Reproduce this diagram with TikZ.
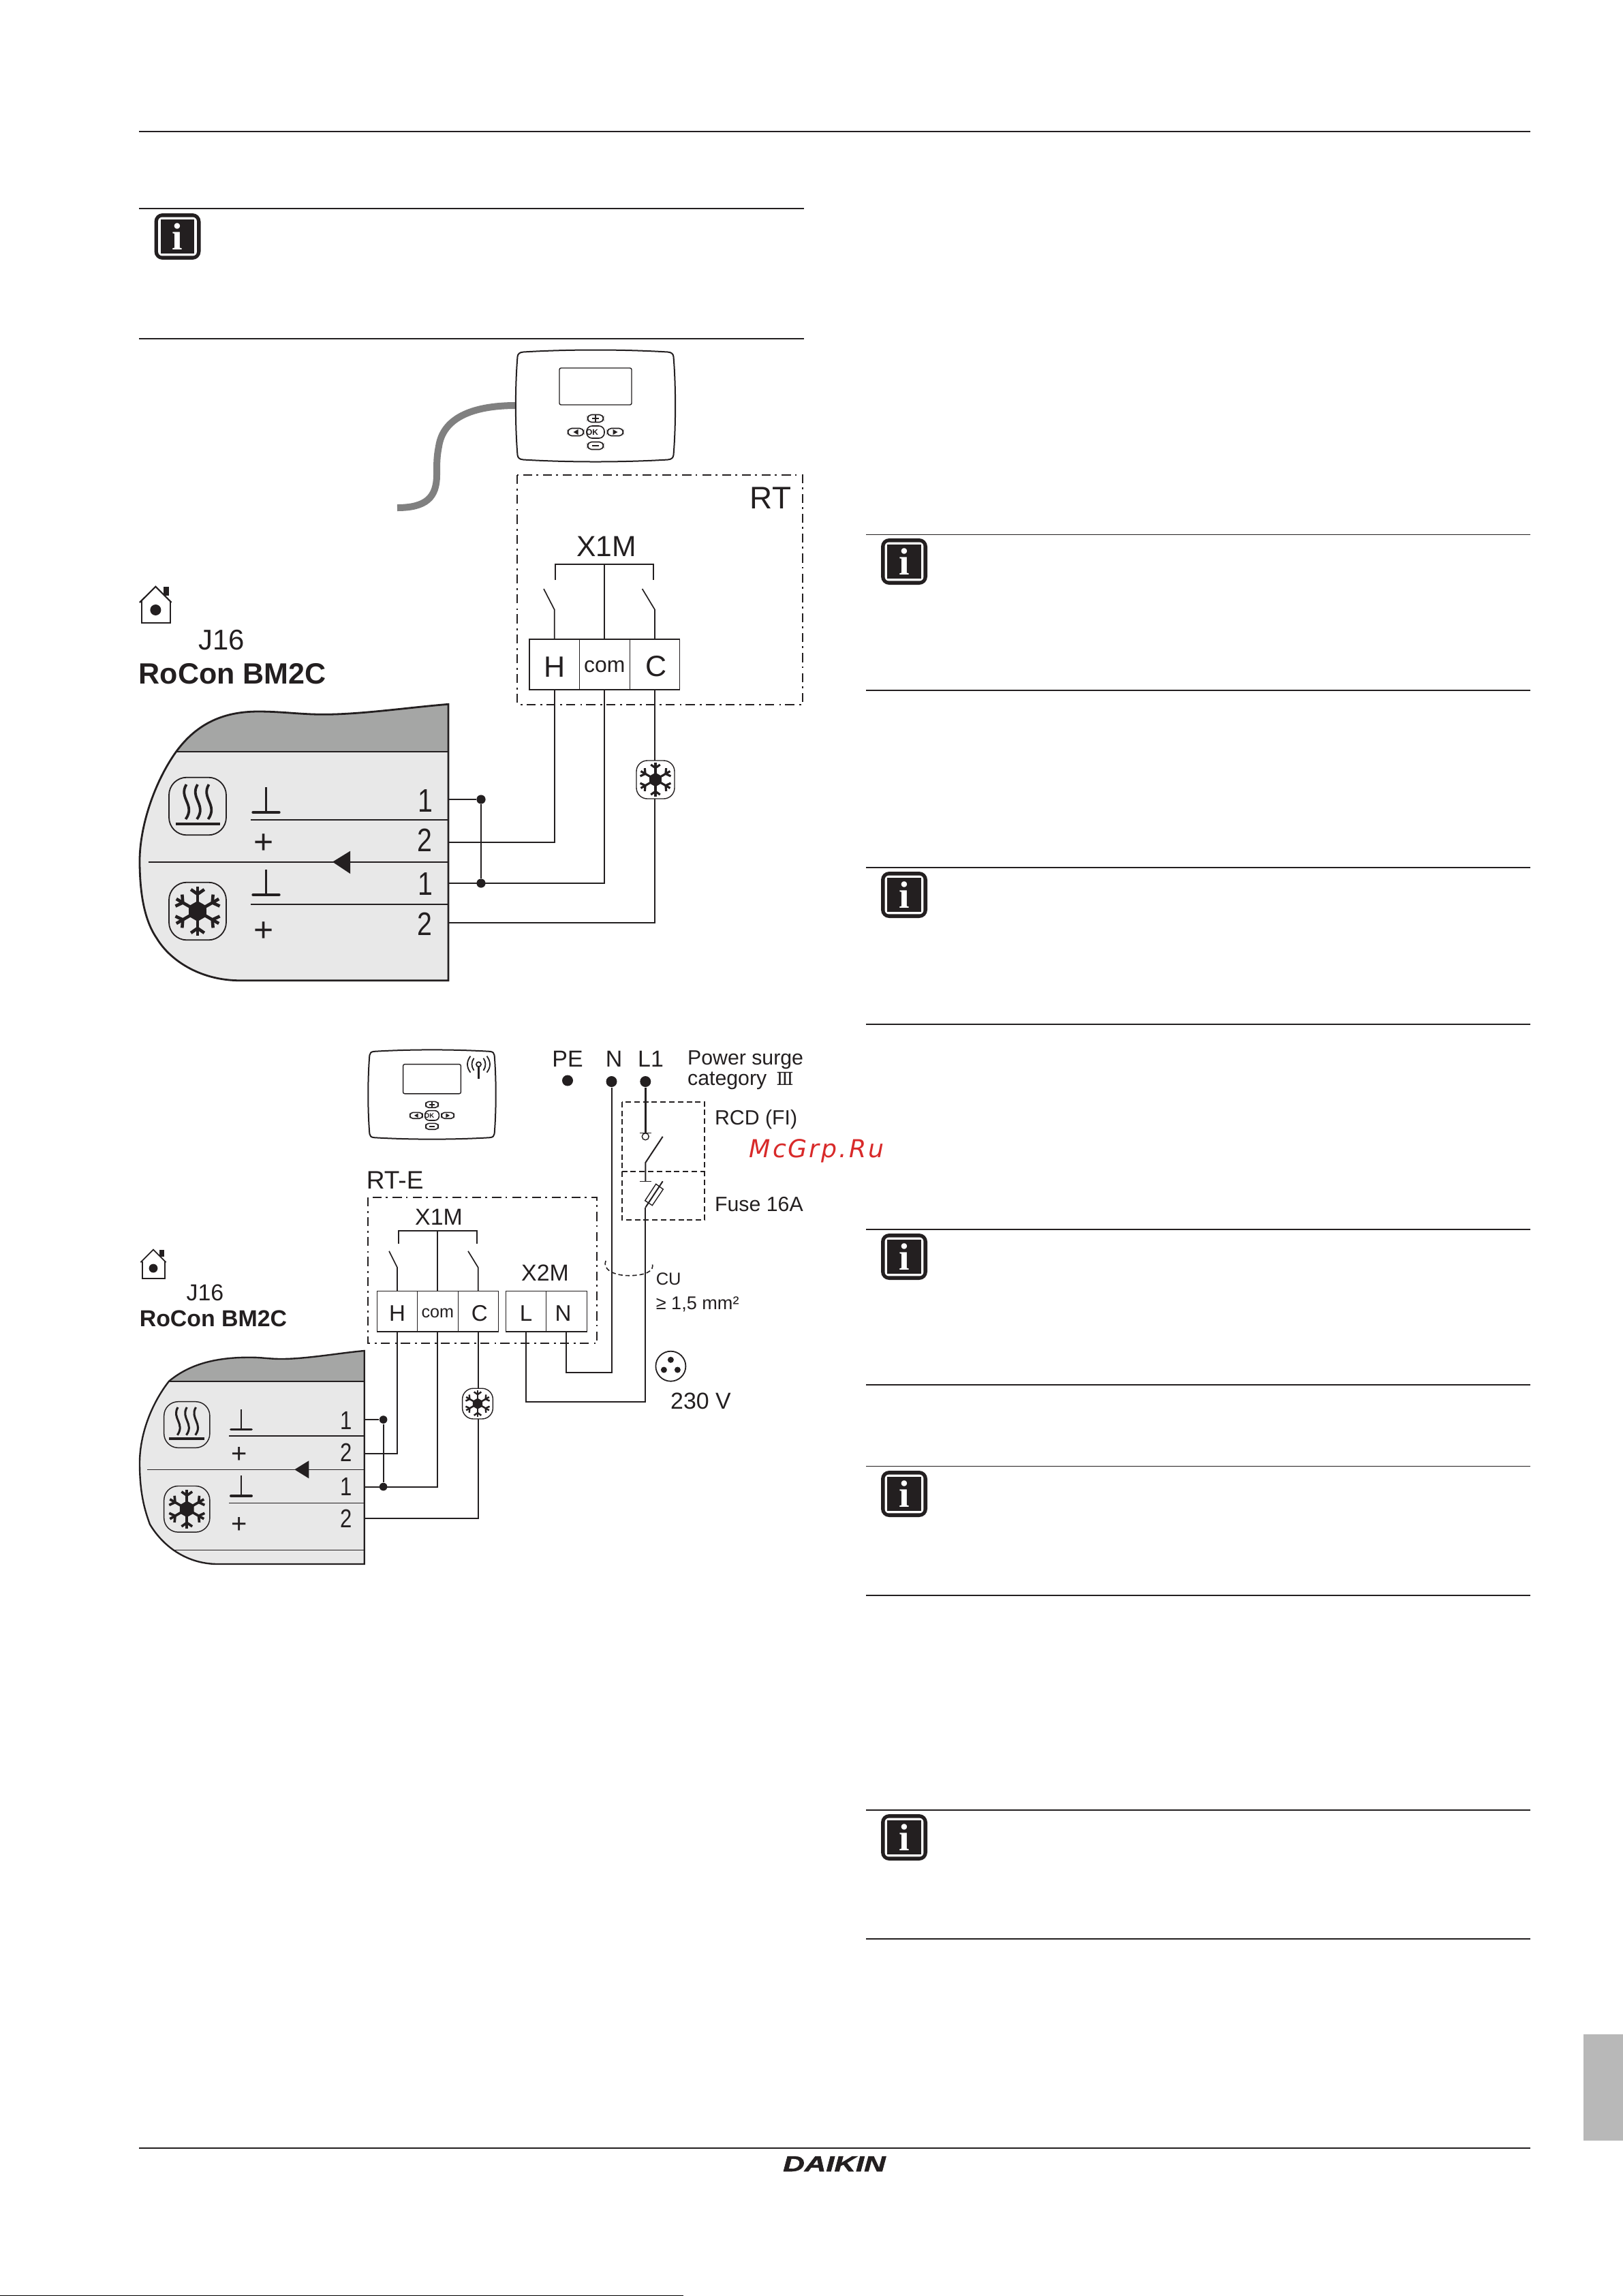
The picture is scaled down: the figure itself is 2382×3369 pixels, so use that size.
\documentclass[tikz,border=0pt]{standalone}
\usepackage{fontspec}
\setmainfont{Liberation Sans}
\newfontfamily\symfont{DejaVu Serif}
\newfontfamily\markfont[LetterSpace=8]{DejaVu Sans}
\newfontfamily\infofont{Liberation Serif}
\newfontfamily\logofont[BoldItalicFeatures={FakeBold=1.6}]{Liberation Sans}
\usetikzlibrary{positioning,calc}
\definecolor{ink}{HTML}{231F20}
\definecolor{bandgray}{HTML}{A5A6A5}
\definecolor{panelgray}{HTML}{E8E8E8}
\definecolor{tabgray}{HTML}{B8B8B8}
\definecolor{cablegray}{HTML}{808080}
\definecolor{markred}{HTML}{D82A2A}
\newcommand{\fsz}[1]{\fontsize{#1}{#1}\selectfont}
\newcommand{\pinnum}[1]{\scalebox{0.82}[1]{#1}}
\tikzset{
  rule/.style={ink, line width=0.33bp},
  wire/.style={ink, line width=0.5bp},
  thinwire/.style={ink, line width=0.42bp},
  cable/.style={cablegray, line width=2.5bp},
  dashdot/.style={ink, line width=0.5bp, dash pattern=on 3.3bp off 1.8bp on 0.7bp off 1.5bp},
  dashbox/.style={ink, line width=0.5bp, dash pattern=on 2bp off 1.2bp},
  lab/.style={inner sep=0pt, anchor=base, text=ink},
  labw/.style={inner sep=0pt, anchor=base west, text=ink},
  cellA/.style={draw=ink, line width=0.3bp, fill=white, inner sep=0pt, outer sep=0pt, text=ink,
    minimum width=18.4bp, minimum height=18.5bp, text height=9bp, font=\fsz{10.8}},
  cellB/.style={draw=ink, line width=0.3bp, fill=white, inner sep=0pt, outer sep=0pt, text=ink,
    minimum width=14.85bp, minimum height=14.9bp, text height=7.2bp, font=\fsz{8.3}},
  joint/.style={circle, fill=ink, inner sep=0pt, minimum size=3.3bp},
  mains/.style={circle, fill=ink, inner sep=0pt, minimum size=4bp},
  snowbox/.style={draw=ink, line width=0.35bp, fill=white, rounded corners=4bp, inner sep=0pt},
  infoout/.style={fill=ink, rounded corners=3bp, inner sep=0pt, minimum size=17bp},
  infomid/.style={fill=white, rounded corners=1.5bp, inner sep=0pt, minimum size=14.2bp},
  infoin/.style={fill=ink, inner sep=0pt, minimum size=12.3bp, text=white, font=\infofont\bfseries\fsz{14}},
  pics/snowflake/.style={code={
    \begin{scope}[scale=#1]
      \fill[ink] (90:15) -- (150:15) -- (210:15) -- (270:15) -- (330:15) -- (30:15) -- cycle;
      \foreach \a in {30,90,...,330} {
        \draw[ink, line width=#1*1.15bp] (0,0) -- (\a:36);
        \draw[ink, line width=#1*1.15bp] (\a:25) -- ++(\a+55:12);
        \draw[ink, line width=#1*1.15bp] (\a:25) -- ++(\a-55:12);
      }
    \end{scope}
  }},
  pics/heaticon/.style={code={
    \begin{scope}[scale=#1]
      \draw[ink, line width=#1*0.45bp, rounded corners=#1*6.5bp] (-42,-42.3) rectangle (42,42.3);
      \draw[ink, line width=#1*1.2bp] (-32.5,26) -- (32.5,26);
      \foreach \d in {-16.5,0,16.5}
        \draw[ink, line width=#1*0.95bp] (\d,-32) .. controls (\d-12,-12) and (\d+14,-2) .. (\d-1,19);
    \end{scope}
  }},
  pics/coolicon/.style={code={
    \begin{scope}[scale=#1]
      \draw[ink, line width=#1*0.45bp, rounded corners=#1*6.5bp] (-42,-42.3) rectangle (42,42.3);
    \end{scope}
    \pic {snowflake=#1};
  }},
  pics/earth/.style={code={
    \begin{scope}[scale=#1]
      \draw[ink, line width=#1*0.75bp] (0,-37) -- (0,0);
      \draw[ink, line width=#1*1.1bp, line cap=round] (-19,0) -- (19,0);
    \end{scope}
  }},
  pics/house/.style={code={
    \begin{scope}[scale=#1]
      \draw[ink, line width=#1*0.55bp] (-20.4,-13) -- (-20.4,19) -- (21.6,19) -- (21.6,-13);
      \draw[ink, line width=#1*0.55bp] (-23.4,-11) -- (0,-34.3) -- (23.2,-11);
      \fill[ink] (11.6,-34) rectangle (19.6,-21);
      \fill[ink] (0,0) circle (8);
    \end{scope}
  }},
  pics/thermostat/.style={code={
    \begin{scope}[scale=#1]
      \draw[ink, line width=0.5bp, fill=white] (-106,-79) .. controls (-40,-83) and (40,-83) .. (106,-79)
        .. controls (112,-78.5) and (114,-76) .. (114.5,-72) .. controls (118,-30) and (118,30) .. (114.5,72)
        .. controls (114,76) and (112,78.5) .. (106,79) .. controls (40,83) and (-40,83) .. (-106,79)
        .. controls (-112,78.5) and (-114,76) .. (-114.5,72) .. controls (-118,30) and (-118,-30) .. (-114.5,-72)
        .. controls (-114,-76) and (-112,-78.5) .. (-106,-79) -- cycle;
      \draw[ink, line width=0.35bp, rounded corners=0.6bp] (-53,-55.5) rectangle (53,-1.5);
      % keypad
      \foreach \bx/\by in {0/18.5,-29/38.5,29/38.5,0/58.5}
        \draw[ink, line width=0.4bp, rounded corners=#1*1.4bp] (\bx-11.5,\by-5.5) rectangle (\bx+11.5,\by+5.5);
      \draw[ink, line width=0.4bp, rounded corners=#1*2bp] (-13,29.5) rectangle (13,47.5);
      \fill[ink] (-32.5,38.5) -- (-25.5,34.5) -- (-25.5,42.5) -- cycle;
      \fill[ink] (32.5,38.5) -- (25.5,34.5) -- (25.5,42.5) -- cycle;
      \draw[ink, line width=#1*0.5bp] (-5,18.5) -- (5,18.5) (0,13.5) -- (0,23.5);
      \draw[ink, line width=#1*0.5bp] (-5,58.5) -- (5,58.5);
      \node[transform shape, inner sep=0pt, text=ink, font=\bfseries\fsz{3}] (-ok) at (-5,38.5) {OK};
    \end{scope}
  }},
  pics/antenna/.style={code={
    \draw[ink, line width=0.7bp] (0,0) -- (0,21);
    \draw[ink, line width=0.45bp, fill=white] (0,0) circle (3.5);
    \foreach \s in {-1,1} {
      \draw[ink, line width=0.45bp] (\s*7,-9) .. controls (\s*11,-3) and (\s*11,3) .. (\s*7,9);
      \draw[ink, line width=0.45bp] (\s*12,-12) .. controls (\s*18,-4) and (\s*18,4) .. (\s*12,12);
    }
  }}
}
\begin{document}
\begin{tikzpicture}[x=0.25bp,y=-0.25bp]
\useasboundingbox (0,0) rectangle (2382,3369);
% page rules
\draw[rule] (204,193) -- (2246,193);
\draw[rule] (204,306) -- (1180,306);
\draw[rule] (204,497) -- (1180,497);
\foreach \y in {784.3,1013,1273,1503,1804,2032,2151.5,2341,2656,2845}
  \draw[rule] (1271,\y) -- (2246,\y);
\draw[rule] (204,3152) -- (2246,3152);
\draw[black, line width=0.4bp] (0,3368.4) -- (1003,3368.4);
\fill[tabgray] (2324,2985) rectangle (2382,3141);
% info icons
\foreach \n/\ix/\iy in {a/260.5/347,b/1327/824,c/1327/1313,d/1327/1844,e/1327/2192,f/1327/2696} {
  \node[infoout] (infoo\n) at (\ix,\iy) {};
  \node[infomid] (infom\n) at (\ix,\iy) {};
  \node[infoin] (infoi\n) at (\ix,\iy) {i};
}
\node[inner sep=0pt, anchor=base, text=ink, font=\logofont\bfseries\itshape\fsz{8}] (logo) at (1224.5,3186) {\scalebox{1.37}[1]{DAIKIN}};

% upper diagram: nodes
\coordinate (cableEnd) at (583,745);
\draw[cable] (cableEnd) .. controls (625,745) and (641,730) .. (641,697) .. controls (641,680) and (641,670) .. (644,655) .. controls (650,615) and (690,595) .. (757,595);
\pic (statA) at (874,595.5) {thermostat=1};
\draw[dashdot] (759,697) rectangle (1178,1033.6);
\node[labw, anchor=base east, font=\fsz{11.5}] (rtA) at (1162,746.6) {RT};
\node[lab, font=\fsz{10.7}] (xA) at (890,816) {X1M};
\node[cellA] (hA) at (813.7,975) {H};
\node[cellA, right=0pt of hA, font=\fsz{8}, text height=5.8bp] (comA) {com};
\node[cellA, right=0pt of comA] (cA) {\hspace*{1bp}C};
\pic at (228.4,895) {house=1};
\node[lab, font=\fsz{10.5}] (jA) at (325,953) {J16};
\node[labw, font=\bfseries\fsz{10.8}] (boardA) at (203,1003) {RoCon BM2C};

% upper panel
\fill[panelgray] (258.5,1103) .. controls (225,1150) and (205,1215) .. (205,1263) .. controls (205,1320) and (215,1355) .. (230,1376.7) .. controls (250,1410) and (295,1438.7) .. (352,1438.7) -- (658,1438.7) -- (658,1103) -- cycle;
\fill[bandgray] (658,1033.3) .. controls (600,1038) and (530,1048.3) .. (475,1048.3) .. controls (440,1048.3) and (415,1044) .. (379,1044) .. controls (330,1044) and (290,1060) .. (258.5,1103) -- (658,1103) -- cycle;
\draw[ink, line width=0.7bp] (658,1033.3) .. controls (600,1038) and (530,1048.3) .. (475,1048.3) .. controls (440,1048.3) and (415,1044) .. (379,1044) .. controls (330,1044) and (290,1060) .. (258.5,1103) .. controls (225,1150) and (205,1215) .. (205,1263) .. controls (205,1320) and (215,1355) .. (230,1376.7) .. controls (250,1410) and (295,1438.7) .. (352,1438.7) -- (658,1438.7) -- cycle;
\draw[ink, line width=0.3bp] (258.5,1103) -- (658,1103);
\draw[ink, line width=0.5bp] (367.5,1203) -- (658,1203);
\draw[ink, line width=0.5bp] (217.5,1264.7) -- (658,1264.7);
\draw[ink, line width=0.6bp] (367.5,1326.7) -- (658,1326.7);
\fill[ink] (488,1264.7) -- (514,1248.7) -- (514,1282) -- cycle;
\pic at (290,1183) {heaticon=1};
\pic at (290,1337) {coolicon=1};
\pic at (390.5,1192) {earth=1};
\pic at (390.5,1313) {earth=1};
\node[inner sep=0pt, text=ink, font=\fsz{12.5}] (plusA) at (387,1238) {+};
\node[inner sep=0pt, text=ink, font=\fsz{12.5}] (plusB) at (387,1367.3) {+};
\node[inner sep=0pt, text=ink, font=\fsz{12}] (pinA) at (624,1175) {\pinnum{1}};
\node[inner sep=0pt, text=ink, font=\fsz{12}] (pinB) at (623,1232.7) {\pinnum{2}};
\node[inner sep=0pt, text=ink, font=\fsz{12}] (pinC) at (624,1296.7) {\pinnum{1}};
\node[inner sep=0pt, text=ink, font=\fsz{12}] (pinD) at (623,1355.7) {\pinnum{2}};

% upper edges
\coordinate (edgeA) at (658,1173);
\coordinate (edgeB) at (658,1236);
\coordinate (edgeC) at (658,1296);
\coordinate (edgeD) at (658,1354);
\coordinate (swHa) at (798,864);
\coordinate (swHb) at (813.7,894.5);
\coordinate (swCa) at (942.6,864);
\coordinate (swCb) at (961,894.5);
\node[joint] (jointA) at (706,1173) {};
\node[joint] (jointB) at (706,1296) {};
\draw[wire] (edgeA) -- (jointA);
\draw[wire] (edgeC) -- (jointB);
\draw[wire] (jointA) -- (jointB);
\draw[wire] (hA.south) |- (edgeB);
\draw[wire] (comA.south) |- (edgeC);
\draw[wire] (cA.south) |- (edgeD);
\draw[wire] (815,851) -- (815,827.6) -- (959,827.6) -- (959,851);
\draw[wire] (comA.north) -- (comA.north |- 0,827.6);
\draw[thinwire] (swHa) -- (swHb) -- (hA.north);
\draw[thinwire] (swCa) -- (swCb) -- (cA.north);
\node[snowbox, minimum size=14bp] (snowA) at (962,1144) {};
\pic at (snowA) {snowflake=0.69};

% lower diagram: nodes
\pic (statB) at (634,1606) {thermostat=0.8};
\pic at (702.5,1561.7) {antenna};
\node[labw, font=\fsz{9.3}] (rtB) at (537,1744) {RT-E};
\draw[dashdot] (540,1756.8) rectangle (876,1971.2);
\node[lab, font=\fsz{8.5}] (xB) at (644,1797) {X1M};
\node[lab, font=\fsz{8.5}] (xC) at (800,1879) {X2M};
\node[cellB] (hB) at (583,1924.2) {H};
\node[cellB, right=0pt of hB, font=\fsz{6.3}, text height=4.8bp] (comB) {com};
\node[cellB, right=0pt of comB] (cB) {\hspace*{1bp}C};
\node[cellB] (lB) at (772,1924.2) {L};
\node[cellB, right=0pt of lB] (nB) {\hspace*{-2.4bp}N};
\pic at (225,1861) {house=0.8};
\node[lab, font=\fsz{8.5}] (jB) at (301,1908) {J16};
\node[labw, font=\bfseries\fsz{8.5}] (boardB) at (204,1946) {RoCon BM2C};
\node[lab, font=\fsz{8.5}] (peL) at (833,1565) {PE};
\node[lab, font=\fsz{8.5}] (nL) at (901,1565) {N};
\node[lab, font=\fsz{8.5}] (lL) at (955,1565) {L1};
\node[labw, font=\fsz{7.6}] (surgeA) at (1008.3,1562) {Power surge};
\node[labw, font=\fsz{7.6}] (surgeB) at (1008.3,1592.7) {category\hspace{3.5bp}{\symfont\fsz{6.6}Ⅲ}};
\node[labw, font=\fsz{7.6}] (rcdL) at (1048.3,1650) {RCD (FI)};
\node[labw, font=\fsz{7.6}] (fuseL) at (1048.3,1777.7) {Fuse 16A};
\node[labw, text=markred, font=\markfont\itshape\fsz{9.1}] (markL) at (1099,1698) {McGrp.Ru};
\node[labw, font=\fsz{6.4}] (cuL) at (962,1885) {CU};
\node[labw, font=\fsz{6.8}] (sizeL) at (962,1921.7) {≥ 1,5 mm²};
\node[lab, font=\fsz{8.5}] (voltL) at (1028.5,2067.5) {230 V};
\node[mains] (peD) at (833,1585.5) {};
\node[mains] (nD) at (897.5,1587) {};
\node[mains] (lD) at (947.3,1587) {};
\draw[dashbox] (912.7,1616.7) rectangle (1034.3,1719.3);
\draw[dashbox] (912.7,1719.3) -- (912.7,1790) -- (1034.3,1790) -- (1034.3,1719.3);
\node[circle, draw=ink, line width=0.45bp, inner sep=0pt, minimum size=11bp] (plug) at (984.4,2004.7) {};
\fill[ink] (984.4,1995.3) circle (4.5) (974.4,2010) circle (4.5) (994.4,2010) circle (4.5);

% lower panel
\fill[panelgray] (248,2026.7) .. controls (222,2060) and (205,2105) .. (205,2146.7) .. controls (205,2190) and (212,2215) .. (220,2236.7) .. controls (240,2270) and (275,2295) .. (320,2295) -- (534.7,2295) -- (534.7,2026.7) -- cycle;
\fill[bandgray] (534.7,1982) .. controls (500,1985) and (450,1994) .. (413,1994) .. controls (395,1994) and (385,1991.7) .. (366.7,1991.7) .. controls (320,1991.7) and (280,2000) .. (248,2026.7) -- (534.7,2026.7) -- cycle;
\draw[ink, line width=0.6bp] (534.7,1982) .. controls (500,1985) and (450,1994) .. (413,1994) .. controls (395,1994) and (385,1991.7) .. (366.7,1991.7) .. controls (320,1991.7) and (280,2000) .. (248,2026.7) .. controls (222,2060) and (205,2105) .. (205,2146.7) .. controls (205,2190) and (212,2215) .. (220,2236.7) .. controls (240,2270) and (275,2295) .. (320,2295) -- (534.7,2295) -- cycle;
\draw[ink, line width=0.4bp] (248,2026.7) -- (534.7,2026.7);
\draw[ink, line width=0.5bp] (336,2106.7) -- (534.7,2106.7);
\draw[ink, line width=0.4bp] (216,2156.3) -- (534.7,2156.3);
\draw[ink, line width=0.4bp] (336,2205.3) -- (534.7,2205.3);
\draw[ink, line width=0.4bp] (257,2274.3) -- (534.7,2274.3);
\fill[ink] (432.3,2156.3) -- (453.3,2143.3) -- (453.3,2169.3) -- cycle;
\pic at (274.3,2090.5) {heaticon=0.8};
\pic at (274.3,2214.3) {coolicon=0.8};
\pic at (354,2097.7) {earth=0.8};
\pic at (354,2195) {earth=0.8};
\node[inner sep=0pt, text=ink, font=\fsz{10}] (plusC) at (351.3,2135) {+};
\node[inner sep=0pt, text=ink, font=\fsz{10}] (plusD) at (351.3,2238.4) {+};
\node[inner sep=0pt, text=ink, font=\fsz{9.5}] (pinE) at (507.7,2084) {\pinnum{1}};
\node[inner sep=0pt, text=ink, font=\fsz{9.5}] (pinF) at (507.7,2131) {\pinnum{2}};
\node[inner sep=0pt, text=ink, font=\fsz{9.5}] (pinG) at (507.7,2181.7) {\pinnum{1}};
\node[inner sep=0pt, text=ink, font=\fsz{9.5}] (pinH) at (507.7,2228.3) {\pinnum{2}};

% lower edges
\coordinate (edgeE) at (534.7,2083);
\coordinate (edgeF) at (534.7,2132.8);
\coordinate (edgeG) at (534.7,2181.5);
\coordinate (edgeH) at (534.7,2227.5);
\coordinate (swHc) at (571,1835.8);
\coordinate (swHd) at (583,1859.8);
\coordinate (swCc) at (687,1835.8);
\coordinate (swCd) at (701.7,1859.8);
\coordinate (turnN) at (897.5,2013.6);
\coordinate (turnL) at (947.3,2057);
\coordinate (rcdTop) at (947.3,1662.3);
\coordinate (swFa) at (972.7,1667.7);
\coordinate (swFb) at (947.3,1706);
\coordinate (swFc) at (947.3,1733.3);
\coordinate (fuseA) at (972.7,1733.3);
\coordinate (fuseB) at (947.3,1771.7);
\node[joint, minimum size=2.9bp] (jointC) at (562.6,2083) {};
\node[joint, minimum size=2.9bp] (jointD) at (562.6,2181.5) {};
\draw[wire] (edgeE) -- (jointC);
\draw[wire] (edgeG) -- (jointD);
\draw[wire] (jointC) -- (jointD);
\draw[wire] (hB.south) |- (edgeF);
\draw[wire] (comB.south) |- (edgeG);
\draw[wire] (cB.south) |- (edgeH);
\draw[wire] (584.5,1825) -- (584.5,1806) -- (700,1806) -- (700,1825);
\draw[wire] (comB.north) -- (comB.north |- 0,1806);
\draw[thinwire] (swHc) -- (swHd) -- (hB.north);
\draw[thinwire] (swCc) -- (swCd) -- (cB.north);
\draw[wire] (nD) -- (turnN) -| (nB.south);
\draw[ink, line width=0.8bp] (lD) -- (rcdTop);
\draw[ink, line width=0.4bp] (938.7,1662.3) -- (956,1662.3);
\draw[ink, line width=0.35bp] (947.3,1667.7) circle (5);
\draw[wire] (swFa) -- (swFb) -- (swFc);
\draw[ink, line width=0.4bp] (938.7,1733.3) -- (956,1733.3);
\draw[wire] (fuseA) -- (fuseB);
\draw[ink, line width=0.35bp] (962.7,1737.3) -- (973.3,1745) -- (957.3,1768.7) -- (946.7,1761.7) -- cycle;
\draw[wire] (fuseB) -- (turnL) -| (lB.south);
\draw[ink, line width=0.4bp, dash pattern=on 1.6bp off 1bp] (889,1850) .. controls (884,1862) and (900,1871.7) .. (923,1871.7) .. controls (945,1871.7) and (962,1866) .. (957,1853);
\node[snowbox, minimum size=11.2bp] (snowB) at (701,2059.6) {};
\pic at (snowB) {snowflake=0.54};
\end{tikzpicture}
\end{document}
